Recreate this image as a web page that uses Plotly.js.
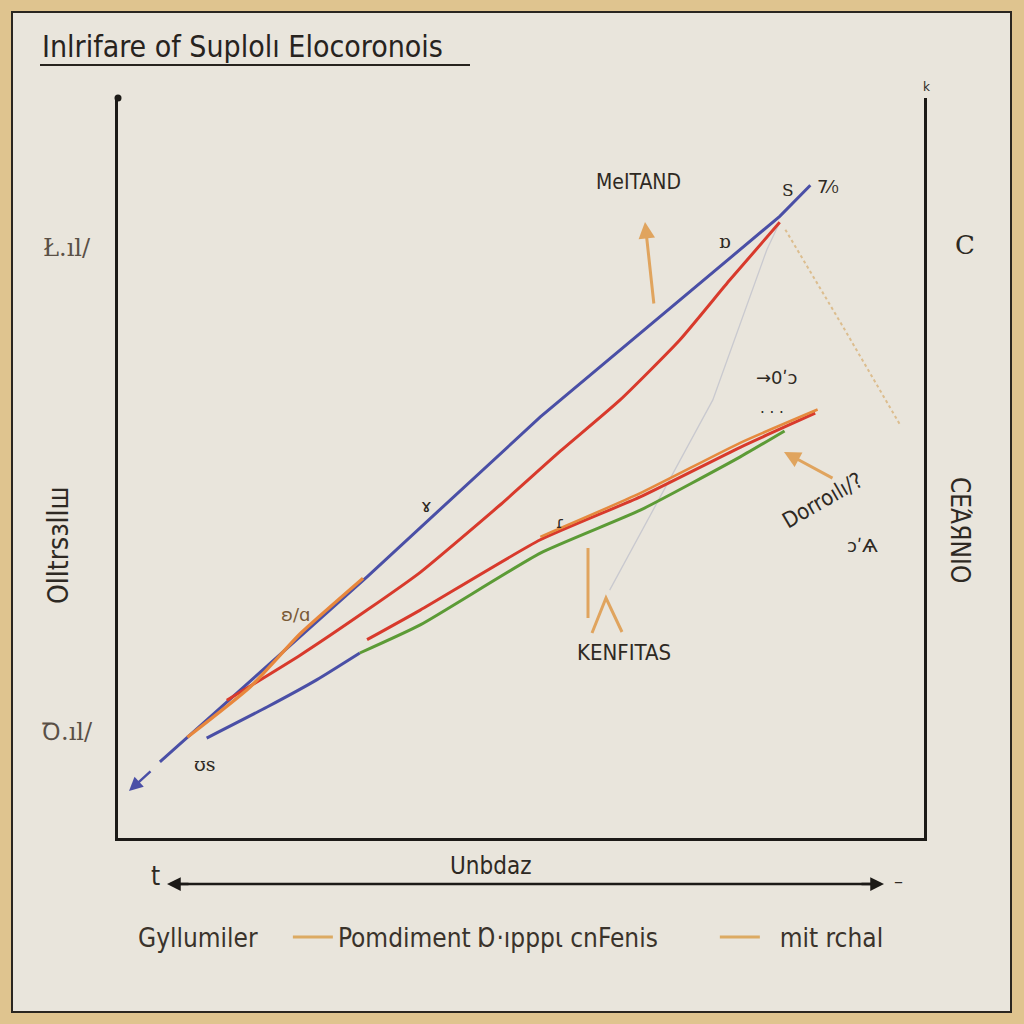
<!DOCTYPE html>
<html><head><meta charset="utf-8">
<script src="https://cdn.plot.ly/plotly-3.0.1.min.js"></script>
<style>html,body{margin:0;padding:0;background:#dfc48f;}#chart{width:1024px;height:1024px;}</style>
</head><body><div id="chart"></div>
<script>
// ---- data (chart units 0..100 on both axes) ----
const upperBlueX = [5.2, 30.9, 52.4, 82.1, 85.9];
const upperBlueY = [10.3, 35.3, 56.9, 84.0, 88.2];
const upperOrangeX = [8.6, 16.4, 22.6, 30.4];
const upperOrangeY = [13.6, 20.4, 27.6, 35.1];
const upperRedX = [13.5, 22.6, 30.9, 37.5, 47.4, 54.8, 62.3, 69.7, 75.9, 82.1];
const upperRedY = [18.6, 24.7, 30.8, 35.9, 45.0, 52.2, 59.2, 67.3, 75.4, 83.2];
const lowerBlueX = [11.0, 18.5, 24.7, 30.0];
const lowerBlueY = [13.5, 17.7, 21.4, 25.0];
const greenX = [30.0, 37.5, 52.4, 64.8, 77.2, 82.7];
const greenY = [25.0, 28.8, 38.5, 44.3, 51.5, 55.0];
const lowerRedX = [30.9, 37.5, 52.4, 64.8, 77.2, 86.5];
const lowerRedY = [26.8, 30.8, 40.3, 46.1, 52.8, 57.4];
const lowerOrangeX = [52.4, 64.8, 77.2, 86.8];
const lowerOrangeY = [40.7, 46.6, 53.4, 57.9];
const grayX = [61.0, 70.6, 73.8, 80.5, 82.1];
const grayY = [33.5, 52.8, 59.2, 79.5, 83.2];
const tanDotX = [82.8, 90.0, 97.0];
const tanDotY = [82.2, 69.0, 55.9];
const legendNames = ["Pomdiment Ɒ·ıpppɩ cnFenis", "mit rchal"];
const legendTitle = "Gyllumiler";
const titleText = "Inlrifare of Suplolı Elocoronois";
const xLabel = "Unbdaz";

// ---- helpers for pixel placement of decorations ----
const PX = x => x / 1024;
const PY = y => 1 - y / 1024;
const pad = n => '\u00A0'.repeat(n);

const ink = '#2e2923';
const hand = 'DejaVu Sans, sans-serif';
const narrow = 'DejaVu Sans Condensed, DejaVu Sans, sans-serif';

const line = (x, y, color, width, extra) => Object.assign({
  type: 'scatter', mode: 'lines', x: x, y: y, showlegend: false, hoverinfo: 'skip',
  line: {color: color, width: width, shape: 'spline', smoothing: 0.5}
}, extra || {});

const traces = [
  line(grayX, grayY, '#c9c9cf', 1.3, {line: {color: '#c9c9cf', width: 1.3}}),
  line(tanDotX, tanDotY, '#dcbd8e', 2, {line: {color: '#dcbd8e', width: 2, dash: 'dot'}}),
  line(upperBlueX, upperBlueY, '#4a4fa6', 3, {line: {color: '#4a4fa6', width: 3}}),
  line(upperRedX, upperRedY, '#d83a2c', 3),
  line(upperOrangeX, upperOrangeY, '#e8873c', 3.2),
  line(lowerBlueX, lowerBlueY, '#4a4fa6', 3),
  line(greenX, greenY, '#5c9b36', 3),
  line(lowerRedX, lowerRedY, '#d83a2c', 3),
  line(lowerOrangeX, lowerOrangeY, '#e58a3e', 2.6),
  {type: 'scatter', mode: 'lines', x: [null], y: [null], name: legendNames[0] + pad(7), showlegend: true,
   line: {color: '#dcaa62', width: 3}},
  {type: 'scatter', mode: 'lines', x: [null], y: [null], name: pad(2) + legendNames[1], showlegend: true,
   line: {color: '#dcaa62', width: 3}}
];

const txt = (x, y, text, size, opts) => Object.assign({
  xref: 'paper', yref: 'paper', x: PX(x), y: PY(y), text: text, showarrow: false,
  xanchor: 'center', yanchor: 'middle', font: {family: hand, size: size, color: ink}
}, opts || {});

const arrow = (hx, hy, tx, ty, color, width) => ({
  xref: 'paper', yref: 'paper', x: PX(hx), y: PY(hy), axref: 'pixel', ayref: 'pixel',
  ax: tx - hx, ay: ty - hy, text: '', showarrow: true, arrowhead: 2, arrowsize: 1.1,
  arrowwidth: width, arrowcolor: color
});

const annotations = [
  txt(40, 46, titleText, 30, {xanchor: 'left', font: {family: narrow, size: 30, color: '#27231e'}}),
  txt(638, 182, 'MeITAND', 21, {font: {family: narrow, size: 21, color: ink}}),
  txt(788, 190, 'S', 17, {font: {family: 'DejaVu Serif, serif', size: 17, color: ink}}),
  txt(828, 186, '7⁄₀', 18),
  txt(725, 241, 'ɒ', 18, {font: {family: 'DejaVu Serif, serif', size: 18, color: ink}}),
  txt(776, 377, '→0ʹɔ', 18),
  txt(772, 413, '· · ·', 15),
  txt(822, 500, 'Dorroılı/?', 22, {textangle: -30, font: {family: narrow, size: 22, color: ink}}),
  txt(862, 545, 'ɔʹѦ', 18),
  txt(624, 652, 'KENFITAS', 22, {font: {family: narrow, size: 22, color: ink}}),
  txt(560, 522, 'ɾ', 16),
  txt(426, 505, 'ɤ', 18),
  txt(205, 764, 'ʊs', 19, {font: {family: 'DejaVu Serif, serif', size: 19, color: ink}}),
  txt(295, 614, 'ʚ/ɑ', 18, {font: {family: hand, size: 18, color: '#7a5a36'}}),
  txt(67, 248, 'Ł.ıl/', 24, {font: {family: 'DejaVu Serif, serif', size: 24, color: '#5a5046'}}),
  txt(58, 545, 'Olltrsɜllш', 28, {textangle: -90, font: {family: narrow, size: 28, color: ink}}),
  txt(67, 732, 'Ꝺ.ıl/', 24, {font: {family: 'DejaVu Serif, serif', size: 24, color: '#5a5046'}}),
  txt(965, 245, 'C', 26, {font: {family: 'DejaVu Serif, serif', size: 26, color: ink}}),
  txt(960, 530, 'CEΆЯNIO', 26, {textangle: 90, font: {family: narrow, size: 26, color: ink}}),
  txt(926, 87, 'k', 12),
  txt(155, 876, 't', 24, {font: {family: narrow, size: 26, color: ink}}),
  txt(490, 866, xLabel, 24, {font: {family: narrow, size: 24, color: ink}}),
  txt(898, 880, '–', 18),
  // orange pointer arrows
  arrow(645, 222, 654, 305, '#e0a45e', 3),
  arrow(784, 452, 834, 479, '#e0a45e', 3),
  // blue arrow tip at lower-left
  arrow(129, 791, 152, 770, '#4a4fa6', 2.5),
  // bottom double-headed axis arrow heads
  arrow(167, 884, 190, 884, '#1c1a17', 2.5),
  arrow(884, 884, 860, 884, '#1c1a17', 2.5)
];

const shapes = [
  {type: 'rect', xref: 'paper', yref: 'paper', x0: PX(12), x1: PX(1011), y0: PY(1012), y1: PY(12),
   fillcolor: '#e9e5dc', line: {color: '#2a2620', width: 2}, layer: 'below'},
  {type: 'line', xref: 'paper', yref: 'paper', x0: PX(40), x1: PX(470), y0: PY(65), y1: PY(65),
   line: {color: '#27231e', width: 2}},
  {type: 'line', xref: 'paper', yref: 'paper', x0: PX(175), x1: PX(876), y0: PY(884), y1: PY(884),
   line: {color: '#1c1a17', width: 2.5}},
  {type: 'circle', xref: 'paper', yref: 'paper', x0: PX(114.5), x1: PX(121.5), y0: PY(101.5), y1: PY(94.5),
   fillcolor: '#1c1a17', line: {width: 0}},
  {type: 'line', xref: 'paper', yref: 'paper', x0: PX(588), x1: PX(588), y0: PY(548), y1: PY(618),
   line: {color: '#e0a45e', width: 3}},
  {type: 'path', xref: 'paper', yref: 'paper',
   path: `M ${PX(592)} ${PY(633)} L ${PX(606)} ${PY(598)} L ${PX(622)} ${PY(632)}`,
   line: {color: '#e0a45e', width: 3}}
];

const layout = {
  width: 1024, height: 1024,
  margin: {l: 0, r: 0, t: 0, b: 0},
  paper_bgcolor: '#dfc48f',
  plot_bgcolor: 'rgba(0,0,0,0)',
  xaxis: {domain: [118 / 1024, 924 / 1024], range: [0, 100], showgrid: false, zeroline: false,
    showticklabels: false, ticks: '', showline: true, linecolor: '#1c1a17', linewidth: 3, mirror: false,
    fixedrange: true},
  yaxis: {domain: [(1024 - 838) / 1024, (1024 - 98) / 1024], range: [0, 100], showgrid: false,
    zeroline: false, showticklabels: false, ticks: '', showline: true, linecolor: '#1c1a17',
    linewidth: 3, mirror: true, fixedrange: true},
  showlegend: true,
  legend: {orientation: 'h', x: PX(136), y: PY(937), xanchor: 'left', yanchor: 'middle',
    bgcolor: 'rgba(0,0,0,0)', font: {family: narrow, size: 26, color: '#3a332b'},
    title: {text: legendTitle + pad(3), side: 'left', font: {family: narrow, size: 26, color: '#3a332b'}},
    itemwidth: 40, tracegroupgap: 0},
  annotations: annotations,
  shapes: shapes
};

Plotly.newPlot('chart', traces, layout, {displayModeBar: false, staticPlot: true});
</script>
</body></html>
